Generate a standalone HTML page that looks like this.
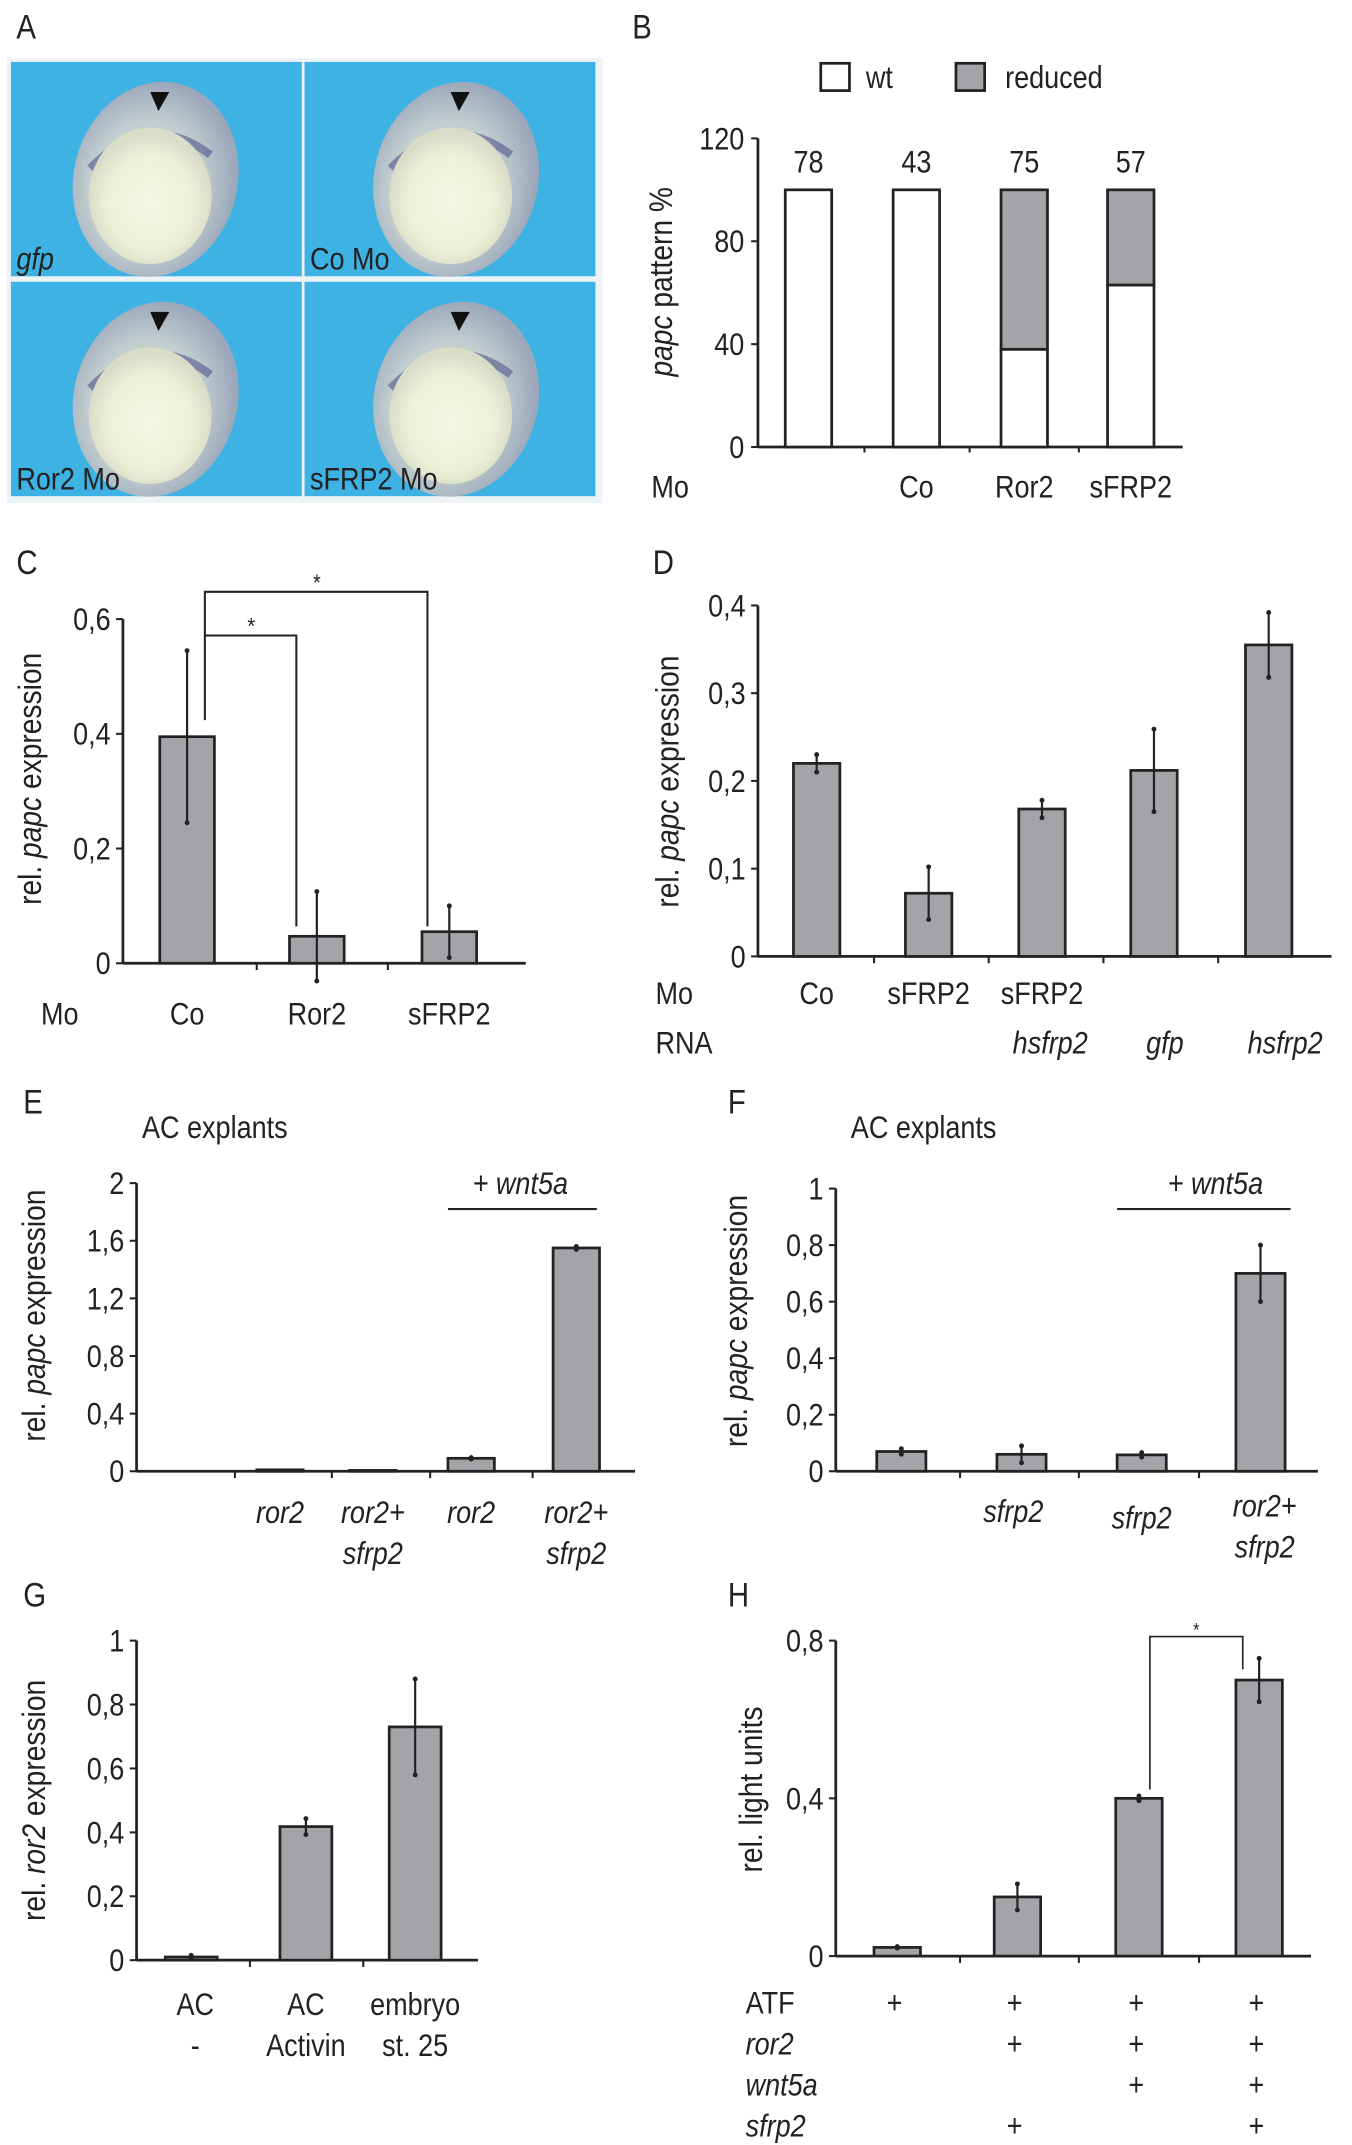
<!DOCTYPE html>
<html><head><meta charset="utf-8"><style>
html,body{margin:0;padding:0;background:#fff;}
svg{display:block;font-family:"Liberation Sans Narrow","Liberation Sans",sans-serif;}
</style></head><body>
<svg id="fig" width="1352" height="2145" viewBox="0 0 990 1570" xmlns="http://www.w3.org/2000/svg">
<defs>
<radialGradient id="yolk" cx="0.5" cy="0.55" r="0.5"><stop offset="0" stop-color="#f6f7e2"/><stop offset="0.7" stop-color="#eef0d6"/><stop offset="1" stop-color="#d9ddc8"/></radialGradient>
<radialGradient id="emb" cx="0.45" cy="0.55" r="0.55"><stop offset="0.6" stop-color="#c3cfcf"/><stop offset="1" stop-color="#9ba7ba"/></radialGradient>
</defs>
<g id="panelA"></g>
<g id="charts"></g>
</svg>
<script>
// ---------- data ----------
const bCats = ["", "Co", "Ror2", "sFRP2"];
const bCounts = ["78", "43", "75", "57"];
const bWt = [100, 100, 38, 63];
const bReduced = [0, 0, 62, 37];
const bTicks = [0, 40, 80, 120];

const cCats = ["Co", "Ror2", "sFRP2"];
const cVals = [0.395, 0.047, 0.055];
const cErr = [0.15, 0.078, 0.045];
const cTicks = ["0", "0,2", "0,4", "0,6"];

const dMo = ["Co", "sFRP2", "sFRP2", "", ""];
const dRna = ["", "", "hsfrp2", "gfp", "hsfrp2"];
const dVals = [0.22, 0.072, 0.168, 0.212, 0.355];
const dErr = [0.01, 0.03, 0.01, 0.047, 0.037];
const dTicks = ["0", "0,1", "0,2", "0,3", "0,4"];

const eRow1 = ["", "ror2", "ror2+", "ror2", "ror2+"];
const eRow2 = ["", "", "sfrp2", "", "sfrp2"];
const eVals = [0, 0.01, 0.006, 0.09, 1.55];
const eErr = [0, 0, 0, 0.005, 0.01];
const eTicks = ["0", "0,4", "0,8", "1,2", "1,6", "2"];

const fRow1 = ["", "sfrp2", "sfrp2", "ror2+"];
const fRow2 = ["", "", "", "sfrp2"];
const fVals = [0.07, 0.06, 0.058, 0.70];
const fErr = [0.01, 0.03, 0.008, 0.1];
const fTicks = ["0", "0,2", "0,4", "0,6", "0,8", "1"];

const gRow1 = ["AC", "AC", "embryo"];
const gRow2 = ["-", "Activin", "st. 25"];
const gVals = [0.01, 0.418, 0.73];
const gErr = [0.005, 0.025, 0.15];
const gTicks = ["0", "0,2", "0,4", "0,6", "0,8", "1"];

const hVals = [0.022, 0.15, 0.40, 0.70];
const hErr = [0.002, 0.033, 0.006, 0.055];
const hTicks = ["0", "0,4", "0,8"];
const hRows = ["ATF", "ror2", "wnt5a", "sfrp2"];
const hPlus = [[1,1,1,1],[0,1,1,1],[0,0,1,1],[0,1,0,1]];

// ---------- helpers ----------
const NS = "http://www.w3.org/2000/svg";
const root = document.getElementById('charts');
const SX = 0.86;
function mk(tag, attrs, parent){
  const el = document.createElementNS(NS, tag);
  for (const k in attrs) el.setAttribute(k, attrs[k]);
  (parent||root).appendChild(el);
  return el;
}
function txt(x,y,s,opt,parent){
  opt = opt||{};
  const t = mk('text',{x:0,y:0,transform:'translate('+x+','+y+') scale('+SX+',1)','font-size':opt.size||23,'text-anchor':opt.anchor||'middle',fill:'#222'},parent);
  if(opt.italic) t.setAttribute('font-style','italic');
  t.textContent = s;
  
  
  return t;
}
function line(x1,y1,x2,y2,w,parent){
  const l = mk('line',{x1:x1,y1:y1,x2:x2,y2:y2,stroke:'#222','stroke-width':w||2},parent);
  
  
  return l;
}
function yAxisTitle(x,y,pre,ital,post){
  const t = mk('text',{x:0,y:0,'font-size':24,'text-anchor':'middle',fill:'#222',transform:'translate('+x+','+y+') rotate(-90) scale('+SX+',1)'});
  
  
  const a = mk('tspan',{},t); a.textContent = pre;
  const b = mk('tspan',{'font-style':'italic'},t); b.textContent = ital;
  const c = mk('tspan',{},t); c.textContent = post;
}
function bar(x,y0,y1,w,fill){
  const r = mk('rect',{x:x,y:Math.min(y0,y1),width:w,height:Math.abs(y1-y0),fill:fill||'#a2a4a7',stroke:'#222','stroke-width':2});
  
  
  return r;
}
function errBar(cx,yHi,yLo){
  const g = mk('g',{});
  
  
  mk('line',{x1:cx,y1:yHi,x2:cx,y2:yLo,stroke:'#222','stroke-width':1.6},g);
  mk('circle',{cx:cx,cy:yHi,r:1.8,fill:'#222'},g);
  mk('circle',{cx:cx,cy:yLo,r:1.8,fill:'#222'},g);
}
function axes(x0,y0,xEnd,yTop,ticks,vMax,yZero,tickDivs){
  line(x0,yTop,x0,y0);
  line(x0,y0,xEnd,y0);
  const n = ticks.length-1;
  ticks.forEach((t,i)=>{
    const y = y0 - (y0-yTop)*i/n;
    line(x0-5,y,x0,y,1.5);
    txt(x0-9,y+8,t,{anchor:'end',name:'y-tick-label'});
  });
  (tickDivs||[]).forEach(x=>line(x,y0,x,y0+5,1.5));
}

// ---------- Panel A ----------
(function(){
  const A = document.getElementById('panelA');
  const tiles = [[8,45,'gfp',true],[223,45,'Co Mo',false],[8,206,'Ror2 Mo',false],[223,206,'sFRP2 Mo',false]];
  mk('rect',{x:5,y:42,width:436,height:326,fill:'#eef3f6'},A);
  tiles.forEach((t,i)=>{
    const g = mk('g',{},A);
    
    
    mk('rect',{x:t[0],y:t[1],width:213,height:157,fill:'#3eb3e3'},g);
    const cx=t[0]+106+(i%2?5:0), cy=t[1]+86;
    mk('ellipse',{cx:cx,cy:cy,rx:60,ry:72,fill:'url(#emb)',transform:'rotate(14 '+cx+' '+cy+')'},g);
    mk('path',{d:'M'+(cx-48)+' '+(cy-8)+' Q'+(cx-5)+' '+(cy-52)+' '+(cx+40)+' '+(cy-18),stroke:'#4a4a86','stroke-width':6,fill:'none',opacity:0.55},g);
    mk('ellipse',{cx:cx-4,cy:cy+12,rx:45,ry:50,fill:'url(#yolk)'},g);
    mk('path',{d:'M'+(cx+2)+' '+(cy-50)+' l-6 -14 l14 0 z',fill:'#111'},g);
    txt(t[0]+4,t[1]+152,t[2],{anchor:'start',italic:t[3],name:'embryo-label'},g);
  });
})();

// panel letters
[["A",12,28],["B",463,28],["C",12,420],["D",478,420],["E",17,815],["F",533,815],["G",17,1176],["H",533,1176]].forEach(p=>txt(p[1],p[2],p[0],{anchor:'start',size:25,name:'panel-letter'}));

// ---------- Panel B ----------
(function(){
  const x0=555,y0=327,yTop=101,vMax=120;
  const sy=v=>y0-(y0-yTop)*v/vMax;
  line(x0,yTop,x0,y0); line(x0,y0,866,y0);
  bTicks.forEach(t=>{line(x0-5,sy(t),x0,sy(t),1.5);txt(x0-10,sy(t)+8,String(t),{anchor:'end',name:'y-tick-label'});});
  [633,710,790].forEach(x=>line(x,y0,x,y0+4,1.5));
  const xs=[592,671,750,828];
  bCats.forEach((c,i)=>{
    bar(xs[i]-17,sy(0),sy(bWt[i]),34,'#fff');
    if(bReduced[i]>0) bar(xs[i]-17,sy(bWt[i]),sy(bWt[i]+bReduced[i]),34,'#a2a4a7');
    txt(xs[i],126,bCounts[i],{name:'count-label'});
    if(c) txt(xs[i],364,c,{name:'x-tick-label'});
  });
  txt(477,364,'Mo',{anchor:'start',name:'row-label'});
  yAxisTitle(492,206,'','papc',' pattern %');
  const l1=mk('rect',{x:601,y:46,width:21,height:20,fill:'#fff',stroke:'#222','stroke-width':2});
  
  
  txt(634,64,'wt',{anchor:'start',name:'legend-entry'});
  const l2=mk('rect',{x:700,y:46,width:21,height:20,fill:'#a2a4a7',stroke:'#222','stroke-width':2});
  
  
  txt(736,64,'reduced',{anchor:'start',name:'legend-entry'});
})();

// ---------- Panel C ----------
(function(){
  const x0=90,y0=705,yTop=453,vMax=0.6;
  const sy=v=>y0-(y0-yTop)*v/vMax;
  axes(x0,y0,385,yTop,cTicks,vMax,y0,[188,284]);
  const xs=[137,232,329];
  cCats.forEach((c,i)=>{
    bar(xs[i]-20,sy(0),sy(cVals[i]),40);
    errBar(xs[i],sy(cVals[i]+cErr[i]),sy(cVals[i]-cErr[i]));
    txt(xs[i],750,c,{name:'x-tick-label'});
  });
  txt(30,750,'Mo',{anchor:'start',name:'row-label'});
  yAxisTitle(30,570,'rel. ','papc',' expression');
  const g=mk('g',{fill:'none',stroke:'#222','stroke-width':1.5});
  
  
  mk('polyline',{points:'150,527 150,433 313,433 313,678'},g);
  mk('polyline',{points:'150,465 217,465 217,678'},g);
  txt(184,464,'*',{size:17,name:'significance-star'});
  txt(232,432,'*',{size:17,name:'significance-star'});
})();

// ---------- Panel D ----------
(function(){
  const x0=555,y0=700,yTop=443,vMax=0.4;
  const sy=v=>y0-(y0-yTop)*v/vMax;
  axes(x0,y0,975,yTop,dTicks,vMax,y0,[640,724,808,892]);
  const xs=[598,680,763,845,929];
  dVals.forEach((v,i)=>{
    bar(xs[i]-17,sy(0),sy(v),34);
    errBar(xs[i],sy(v+dErr[i]),sy(v-dErr[i]));
    if(dMo[i]) txt(xs[i],735,dMo[i],{name:'x-tick-label'});
    if(dRna[i]) txt(xs[i]+(i==3?8:i==4?12:6),771,dRna[i],{italic:true,name:'x-tick-label'});
  });
  txt(480,735,'Mo',{anchor:'start',name:'row-label'});
  txt(480,771,'RNA',{anchor:'start',name:'row-label'});
  yAxisTitle(497,572,'rel. ','papc',' expression');
})();

// ---------- Panel E ----------
(function(){
  const x0=100,y0=1077,yTop=866,vMax=2;
  const sy=v=>y0-(y0-yTop)*v/vMax;
  axes(x0,y0,465,yTop,eTicks,vMax,y0,[172,243,315,390]);
  const xs=[136,205,273,345,422];
  eVals.forEach((v,i)=>{
    if(v>0) bar(xs[i]-17,sy(0),sy(v),34);
    if(eErr[i]>0) errBar(xs[i],sy(v+eErr[i]),sy(v-eErr[i]));
    if(eRow1[i]) txt(xs[i],1115,eRow1[i],{italic:true,name:'x-tick-label'});
    if(eRow2[i]) txt(xs[i],1145,eRow2[i],{italic:true,name:'x-tick-label'});
  });
  txt(104,833,'AC explants',{anchor:'start',name:'panel-subtitle'});
  line(328,885,437,885,1.5);
  txt(381,874,'+ wnt5a',{italic:true,name:'treatment-label'});
  yAxisTitle(33,963,'rel. ','papc',' expression');
})();

// ---------- Panel F ----------
(function(){
  const x0=612,y0=1077,yTop=870,vMax=1;
  const sy=v=>y0-(y0-yTop)*v/vMax;
  axes(x0,y0,965,yTop,fTicks,vMax,y0,[703,790,878]);
  const xs=[660,748,836,923];
  fVals.forEach((v,i)=>{
    bar(xs[i]-18,sy(0),sy(v),36);
    errBar(xs[i],sy(v+fErr[i]),sy(v-fErr[i]));
    if(fRow1[i]) txt(xs[i]-(i==1?6:0)+(i==3?3:0),i==2?1119:i==3?1110:1114,fRow1[i],{italic:true,name:'x-tick-label'});
    if(fRow2[i]) txt(xs[i]+3,1140,fRow2[i],{italic:true,name:'x-tick-label'});
  });
  txt(623,833,'AC explants',{anchor:'start',name:'panel-subtitle'});
  line(818,885,945,885,1.5);
  txt(890,874,'+ wnt5a',{italic:true,name:'treatment-label'});
  yAxisTitle(547,967,'rel. ','papc',' expression');
})();

// ---------- Panel G ----------
(function(){
  const x0=100,y0=1435,yTop=1201,vMax=1;
  const sy=v=>y0-(y0-yTop)*v/vMax;
  axes(x0,y0,350,yTop,gTicks,vMax,y0,[183,266]);
  const xs=[140,224,304];
  gVals.forEach((v,i)=>{
    bar(xs[i]-19,sy(0),sy(v),38);
    errBar(xs[i],sy(v+gErr[i]),sy(v-gErr[i]));
    txt(xs[i]+(i==0?3:0),1475,gRow1[i],{name:'x-tick-label'});
    txt(xs[i]+(i==0?3:0),1505,gRow2[i],{name:'x-tick-label'});
  });
  yAxisTitle(33,1318,'rel. ','ror2',' expression');
})();

// ---------- Panel H ----------
(function(){
  const x0=612,y0=1432,yTop=1201,vMax=0.8;
  const sy=v=>y0-(y0-yTop)*v/vMax;
  axes(x0,y0,960,yTop,hTicks,vMax,y0,[703,790,878]);
  const xs=[657,745,834,922];
  hVals.forEach((v,i)=>{
    bar(xs[i]-17,sy(0),sy(v),34);
    errBar(xs[i],sy(v+hErr[i]),sy(v-hErr[i]));
  });
  hRows.forEach((r,j)=>{
    txt(546,1474+30*j,r,{anchor:'start',italic:j>0,name:'row-label'});
    hPlus[j].forEach((p,i)=>{ if(p) txt(xs[i]-2,1474+30*j,'+',{name:'plus-marker'}); });
  });
  const g=mk('g',{fill:'none',stroke:'#222','stroke-width':1.2});
  
  
  mk('polyline',{points:'842,1310 842,1198 910,1198 910,1222'},g);
  txt(876,1198,'*',{size:14,name:'significance-star'});
  yAxisTitle(558,1310,'rel. light units','','');
})();
</script>
</body></html>
